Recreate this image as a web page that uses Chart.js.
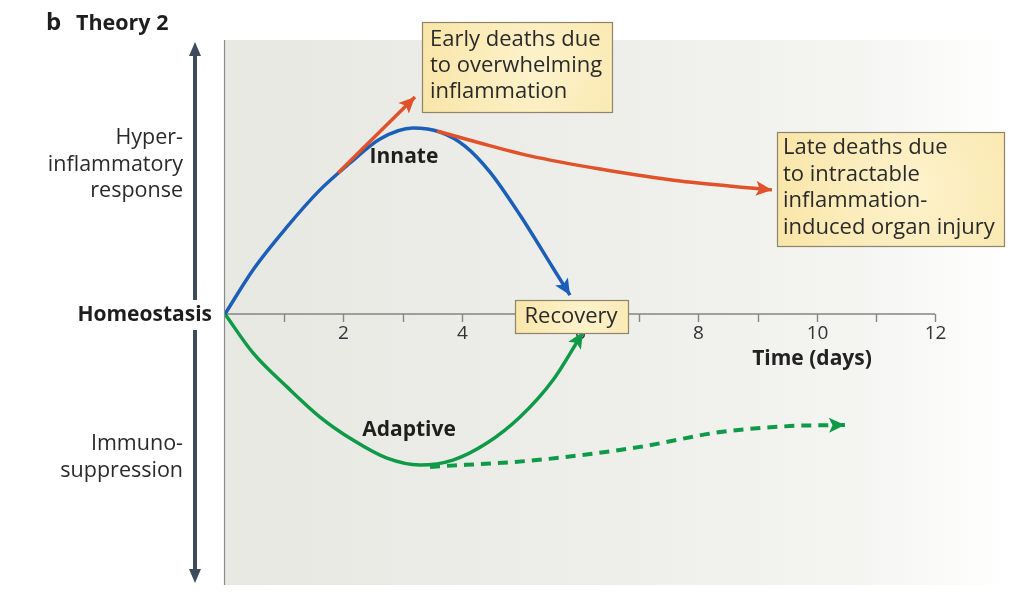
<!DOCTYPE html>
<html><head><meta charset="utf-8">
<script src="https://cdn.jsdelivr.net/npm/chart.js@4"></script>
<style>html,body{margin:0;padding:0;background:#fff}canvas{display:block}</style>
</head><body>
<canvas id="c" width="1024" height="608"></canvas>
<script>
// ---- data ----
const dayTicks = [1,2,3,4,5,6,7,8,9,10,11,12];
const tickLabels = ['','2','','4','','6','','8','','10','','12'];
const innateX = [0, 0.473, 1.048, 1.606, 2.113, 2.620, 3.177, 3.634, 4.056, 4.479, 4.986, 5.544, 5.831];
const innateY = [0, 0.161, 0.318, 0.453, 0.551, 0.639, 0.679, 0.664, 0.613, 0.518, 0.361, 0.168, 0.069];
const earlyX = [1.91, 3.211];
const earlyY = [0.515, 0.792];
const lateX = [3.583, 4.31, 5.155, 6.338, 7.69, 9.245];
const lateY = [0.668, 0.624, 0.577, 0.529, 0.485, 0.453];
const adaptiveX = [0, 0.473, 1.048, 1.606, 2.163, 2.738, 3.296, 3.853, 4.428, 4.986, 5.544, 6.051];
const adaptiveY = [0, -0.142, -0.266, -0.376, -0.46, -0.526, -0.551, -0.533, -0.471, -0.376, -0.241, -0.066];
const suppressX = [3.465, 5.273, 7.014, 8.366, 9.549, 10.478];
const suppressY = [-0.558, -0.533, -0.485, -0.431, -0.409, -0.405];

const pts = (xs, ys) => xs.map((x, i) => ({x, y: ys[i]}));
const FONT = '"Open Sans", sans-serif';
const BLUE = '#1b5fb8', RED = '#e2522a', GREEN = '#0f9a47';

const bgPlugin = {
  id: 'bg',
  beforeDraw(chart) {
    const {ctx} = chart;
    ctx.save();
    const g = ctx.createLinearGradient(224, 0, 1010, 0);
    g.addColorStop(0, '#e8e8e3');
    g.addColorStop(0.5, '#eeeeea');
    g.addColorStop(0.8, '#f4f4f1');
    g.addColorStop(1, '#ffffff');
    ctx.fillStyle = g;
    ctx.fillRect(224, 40, 800, 545);
    ctx.strokeStyle = '#8a8a8a';
    ctx.lineWidth = 1.2;
    ctx.beginPath(); ctx.moveTo(224.5, 40); ctx.lineTo(224.5, 585); ctx.stroke();
    // x axis at homeostasis
    const xs = chart.scales.x, ys = chart.scales.y;
    const y0 = ys.getPixelForValue(0);
    ctx.strokeStyle = '#858585';
    ctx.lineWidth = 1.4;
    ctx.beginPath(); ctx.moveTo(xs.getPixelForValue(0), y0); ctx.lineTo(xs.getPixelForValue(12), y0); ctx.stroke();
    ctx.fillStyle = '#333';
    ctx.font = '19px ' + FONT;
    ctx.textAlign = 'center'; ctx.textBaseline = 'middle';
    dayTicks.forEach((d, i) => {
      const px = Math.round(xs.getPixelForValue(d)) + 0.5;
      ctx.beginPath(); ctx.moveTo(px, y0); ctx.lineTo(px, y0 + 8); ctx.stroke();
      if (tickLabels[i]) ctx.fillText(tickLabels[i], px, y0 + 20);
    });
    ctx.font = 'bold 21px ' + FONT;
    ctx.fillStyle = '#222';
    ctx.fillText('Time (days)', 812, 359);
    ctx.restore();
  }
};

function arrowHead(ctx, x, y, ang, color, L, W) {
  ctx.save();
  ctx.translate(x, y); ctx.rotate(ang);
  ctx.fillStyle = color;
  ctx.beginPath();
  ctx.moveTo(0, 0); ctx.lineTo(-L, -W); ctx.lineTo(-L * 0.78, 0); ctx.lineTo(-L, W); ctx.closePath();
  ctx.fill();
  ctx.restore();
}

const arrowPlugin = {
  id: 'arrows',
  afterDatasetsDraw(chart) {
    const {ctx} = chart;
    chart.data.datasets.forEach((ds, i) => {
      const meta = chart.getDatasetMeta(i);
      const n = meta.data.length;
      const p = meta.data[n - 1];
      let qx = p.cp1x, qy = p.cp1y;
      if (qx === undefined || (Math.abs(qx - p.x) < 0.5 && Math.abs(qy - p.y) < 0.5)) { qx = meta.data[n - 2].x; qy = meta.data[n - 2].y; }
      const ang = Math.atan2(p.y - qy, p.x - qx);
      arrowHead(ctx, p.x, p.y, ang, ds.borderColor, 16, 7.5);
    });
  }
};

function box(ctx, x, y, w, h, lines, tx, ty, lh, align) {
  const g = ctx.createRadialGradient(x + w * 0.6, y + h * 0.5, 5, x + w * 0.6, y + h * 0.5, w * 0.7);
  g.addColorStop(0, '#fdf2cb');
  g.addColorStop(1, '#f9e4a4');
  ctx.fillStyle = g;
  ctx.fillRect(x, y, w, h);
  ctx.strokeStyle = '#8e846a';
  ctx.lineWidth = 1.2;
  ctx.strokeRect(x + 0.5, y + 0.5, w, h);
  ctx.fillStyle = '#2a2a2a';
  ctx.font = '22px ' + FONT;
  ctx.textAlign = align || 'left';
  ctx.textBaseline = 'middle';
  lines.forEach((l, i) => ctx.fillText(l, tx, ty + i * lh));
}

const textPlugin = {
  id: 'texts',
  afterDraw(chart) {
    const {ctx} = chart;
    ctx.save();
    // vertical arrow
    ctx.strokeStyle = '#3e4b5b'; ctx.fillStyle = '#3e4b5b';
    ctx.lineWidth = 4;
    ctx.beginPath(); ctx.moveTo(195, 52); ctx.lineTo(195, 300); ctx.moveTo(195, 330); ctx.lineTo(195, 574); ctx.stroke();
    ctx.beginPath(); ctx.moveTo(195, 42); ctx.lineTo(189, 56); ctx.lineTo(201, 56); ctx.closePath(); ctx.fill();
    ctx.beginPath(); ctx.moveTo(195, 583); ctx.lineTo(189, 569); ctx.lineTo(201, 569); ctx.closePath(); ctx.fill();
    // left labels
    ctx.fillStyle = '#2a2a2a';
    ctx.textBaseline = 'middle';
    ctx.textAlign = 'right';
    ctx.font = '21.5px ' + FONT;
    ['Hyper-', 'inflammatory', 'response'].forEach((t, i) => ctx.fillText(t, 183, 138 + i * 26.5));
    ['Immuno-', 'suppression'].forEach((t, i) => ctx.fillText(t, 183, 444 + i * 26.5));
    ctx.font = 'bold 21px ' + FONT;
    ctx.fillStyle = '#1e1e1e';
    ctx.fillText('Homeostasis', 212, 315);
    ctx.textAlign = 'left';
    ctx.font = 'bold 24px ' + FONT;
    ctx.fillText('b', 46, 23);
    ctx.font = 'bold 21.5px ' + FONT;
    ctx.fillText('Theory 2', 76, 24);
    ctx.font = 'bold 21px ' + FONT;
    ctx.textAlign = 'center';
    ctx.fillText('Innate', 404, 157);
    ctx.fillText('Adaptive', 409, 430);
    // boxes
    box(ctx, 422, 22, 190, 90, ['Early deaths due', 'to overwhelming', 'inflammation'], 430, 40, 26);
    box(ctx, 777, 132, 227, 114, ['Late deaths due', 'to intractable', 'inflammation-', 'induced organ injury'], 783, 148, 26.5);
    box(ctx, 515, 300, 113, 33, ['Recovery'], 571, 317, 26, 'center');
    ctx.restore();
  }
};

const line = (data, color, extra) => Object.assign({
  data, borderColor: color, backgroundColor: color, borderWidth: 3.5,
  pointRadius: 0, pointHoverRadius: 0, showLine: true, cubicInterpolationMode: 'monotone', fill: false,
  borderCapStyle: 'butt'
}, extra || {});

new Chart(document.getElementById('c'), {
  type: 'scatter',
  data: {
    datasets: [
      line(pts(lateX, lateY), RED),
      line(pts(earlyX, earlyY), RED, {cubicInterpolationMode: 'default', tension: 0}),
      line(pts(innateX, innateY), BLUE),
      line(pts(suppressX, suppressY), GREEN, {borderDash: [10, 7], borderWidth: 4}),
      line(pts(adaptiveX, adaptiveY), GREEN)
    ]
  },
  options: {
    responsive: false,
    animation: false,
    devicePixelRatio: 1,
    layout: {padding: {left: 225, right: 89, top: 40, bottom: 20}},
    scales: {
      x: {type: 'linear', min: 0, max: 12, display: false},
      y: {type: 'linear', min: -1, max: 1, display: false}
    },
    plugins: {legend: {display: false}, tooltip: {enabled: false}},
    events: []
  },
  plugins: [bgPlugin, arrowPlugin, textPlugin]
});
</script>
</body></html>
